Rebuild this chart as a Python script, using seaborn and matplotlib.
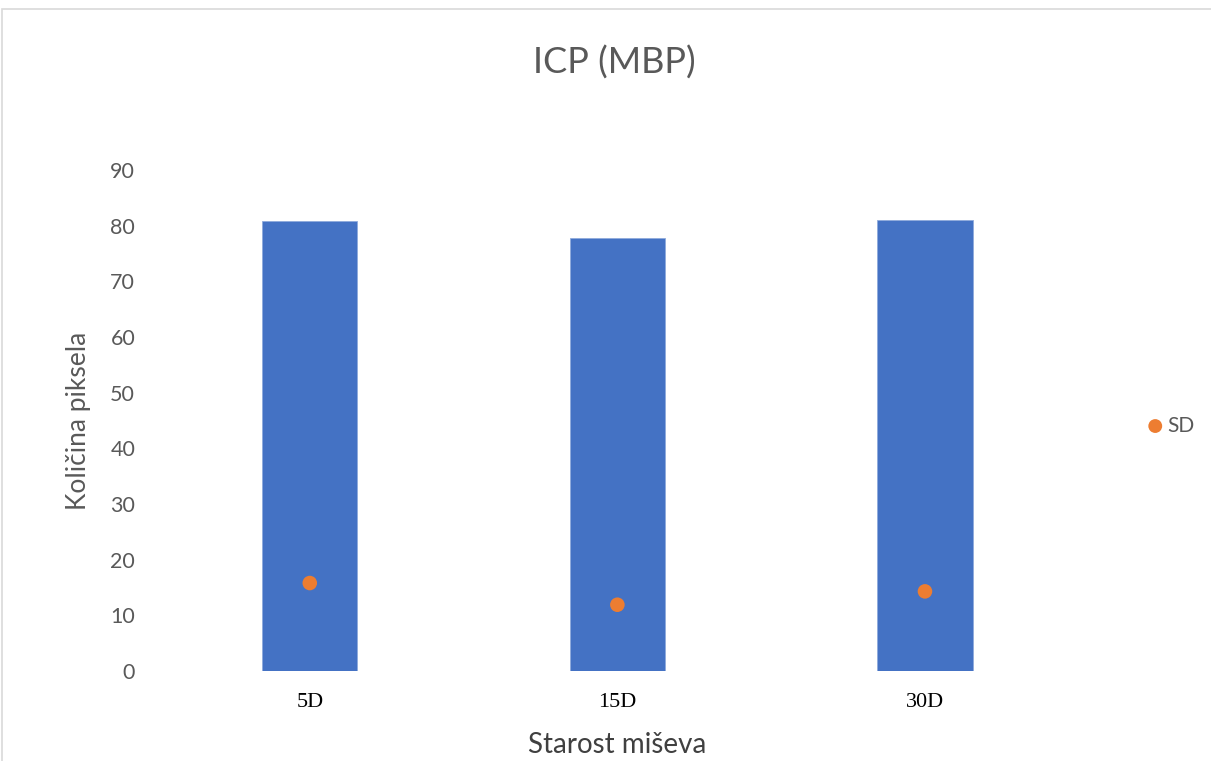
import matplotlib.pyplot as plt
import pandas as pd
import seaborn as sns
from matplotlib.patches import Rectangle

# podaci
categories = ['5D', '15D', '30D']
mean_values = [80.8, 77.8, 81.1]
sd_values = [15.8, 11.9, 14.3]

df = pd.DataFrame({'Starost': categories, 'Mean': mean_values, 'SD': sd_values})

sns.set_style('white')
plt.rcParams['font.family'] = ['Lato', 'DejaVu Sans']

fig = plt.figure(figsize=(12.11, 7.61), dpi=100)
ax = fig.add_axes([0.1288, 0.1183, 0.762, 0.6583])

sns.barplot(data=df, x='Starost', y='Mean', color='#4472C4', width=0.31,
            saturation=1, ax=ax, edgecolor='#8FAADC', linewidth=0.6)
sns.scatterplot(data=df, x='Starost', y='SD', color='#ED7D31', s=110,
                edgecolor='none', label='SD', ax=ax, zorder=3)

ax.set_ylim(0, 90)
ax.set_xlim(-0.5, 2.5)
ax.set_yticks(range(0, 91, 10))
sns.despine(ax=ax, left=True, bottom=True)
ax.tick_params(axis='y', length=0, pad=15, labelsize=15.5, labelcolor='#595959')
ax.tick_params(axis='x', length=0, pad=16)
for lbl in ax.get_xticklabels():
    lbl.set_fontfamily('Liberation Serif')
    lbl.set_fontsize(16)
    lbl.set_color('black')

ax.set_xlabel('Starost miševa', fontsize=20, color='#404040', labelpad=14)
ax.set_ylabel('Količina piksela', fontsize=19, color='#595959', labelpad=14)
fig.text(0.507, 0.918, 'ICP (MBP)', ha='center', va='center', fontsize=26,
         color='#595959')

ax.legend(loc='center left', bbox_to_anchor=(1.04, 0.49), frameon=False,
          fontsize=15, handletextpad=-0.4, labelcolor='#595959',
          markerscale=0.95)

# okvir grafikona
fig.patches.append(Rectangle((0.002, -0.01), 1.2, 0.998, transform=fig.transFigure,
                             fill=False, edgecolor='#D9D9D9', linewidth=1.2))

fig.savefig('out.png', dpi=100)
